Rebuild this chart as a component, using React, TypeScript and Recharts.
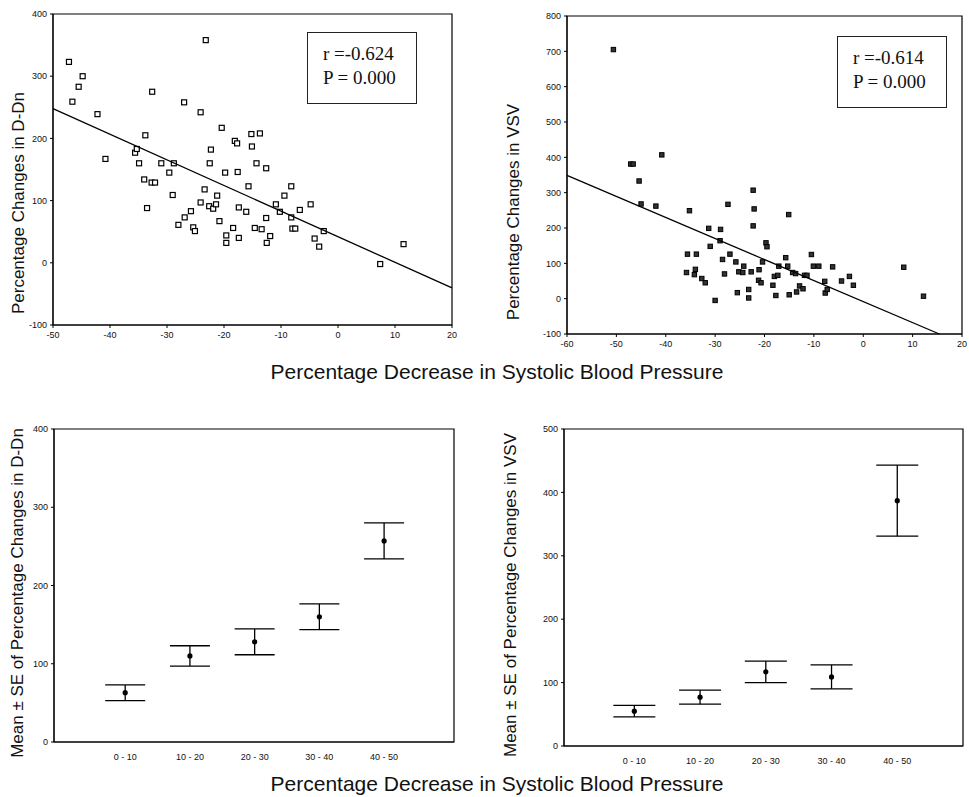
import React from "react";
import { ScatterChart, Scatter, XAxis, YAxis, ReferenceArea, ErrorBar } from "recharts";

// top-left: % decrease in SBP vs % change in D-Dn
const ddnX = [
  -47.2, -46.6, -45.5, -44.8, -42.2, -40.8, -35.6, -35.3, -33.8, -34.9, -34.0, -33.5, -32.6, -32.7, -32.1,
  -31.0, -29.6, -28.8, -29.0, -28.0, -26.9, -27.0, -25.8, -25.4, -25.1, -24.1, -24.1, -23.4, -23.2, -22.5,
  -22.3, -22.6, -21.9, -21.4, -21.2, -20.8, -20.4, -19.8, -19.6, -19.6, -18.4, -18.1, -17.7, -17.6, -17.4,
  -17.4, -16.1, -15.7, -15.2, -15.1, -14.6, -14.3, -13.7, -13.4, -12.6, -12.6, -12.5, -11.9, -10.9, -10.2,
  -9.4, -8.2, -8.2, -8.0, -7.5, -6.7, -4.8, -4.1, -3.3, -2.5, 7.4, 11.5,
];
const ddnY = [
  323, 259, 283, 300, 239, 167, 177, 183, 205, 160, 134, 88, 275, 129, 129,
  160, 145, 160, 109, 61, 73, 258, 83, 57, 51, 242, 97, 118, 358, 160,
  182, 91, 87, 94, 108, 67, 217, 145, 44, 32, 56, 196, 192, 146, 89,
  40, 82, 123, 207, 187, 56, 160, 208, 54, 152, 72, 32, 43, 94, 82,
  108, 123, 73, 55, 55, 85, 94, 39, 26, 51, -2, 30,
];

// top-right: % decrease in SBP vs % change in VSV
const vsvX = [
  -50.6, -47.1, -46.6, -45.4, -45.0, -42.0, -40.8, -35.2, -35.6, -35.8, -33.8, -34.0, -34.2, -32.7, -32.0,
  -31.3, -31.0, -30.0, -28.9, -29.0, -28.5, -28.1, -27.4, -27.0, -25.8, -25.5, -25.2, -24.4, -24.2, -23.2,
  -23.2, -22.7, -22.3, -22.1, -22.3, -21.1, -21.2, -20.7, -20.4, -19.7, -19.5, -18.3, -18.0, -17.3, -17.7,
  -17.1, -15.7, -15.3, -15.1, -15.0, -14.3, -13.7, -13.5, -12.9, -12.2, -11.9, -11.4, -10.5, -10.1, -9.0,
  -7.8, -7.7, -7.3, -6.2, -4.4, -2.8, -2.0, 8.2, 12.2,
];
const vsvY = [
  705, 381, 381, 333, 268, 262, 407, 249, 126, 74, 126, 83, 68, 57, 45,
  199, 148, -5, 196, 164, 111, 70, 267, 126, 104, 17, 76, 74, 92, 26,
  2, 76, 307, 254, 206, 82, 52, 45, 104, 158, 147, 38, 63, 66, 9,
  92, 116, 92, 238, 11, 74, 71, 19, 36, 28, 66, 66, 125, 92, 92,
  49, 16, 26, 90, 50, 63, 38, 89, 7,
];

// bottom panels: groups of % decrease in SBP
const bpGroups = ["0 - 10", "10 - 20", "20 - 30", "30 - 40", "40 - 50"];
const ddnMean = [63, 110, 128, 160, 257];
const ddnSE = [10, 13, 16.5, 16.5, 23];
const vsvMean = [55, 77, 117, 109, 387];
const vsvSE = [9, 11, 17, 19, 56];

const ddnTicksX = [-50, -40, -30, -20, -10, 0, 10, 20];
const ddnTicksY = [-100, 0, 100, 200, 300, 400];
const vsvTicksX = [-60, -50, -40, -30, -20, -10, 0, 10, 20];
const vsvTicksY = [-100, 0, 100, 200, 300, 400, 500, 600, 700, 800];
const groupTicks = [1, 2, 3, 4, 5];
const ddnMeanTicks = [0, 100, 200, 300, 400];
const vsvMeanTicks = [0, 100, 200, 300, 400, 500];

const ddnStats = ["r =-0.624", "P = 0.000"];
const vsvStats = ["r =-0.614", "P = 0.000"];
const xTitle = "Percentage Decrease in Systolic Blood Pressure";

const sans = "'Liberation Sans', Arial, sans-serif";
const serif = "'Liberation Serif', 'Times New Roman', serif";
const tick = { fontSize: 9, fill: "#111", fontFamily: sans };

function fitLine(xs: number[], ys: number[], x0: number, x1: number, yMin: number) {
  const n = xs.length;
  const mx = xs.reduce((a, b) => a + b, 0) / n;
  const my = ys.reduce((a, b) => a + b, 0) / n;
  let sxy = 0;
  let sxx = 0;
  for (let i = 0; i < n; i++) {
    sxy += (xs[i] - mx) * (ys[i] - my);
    sxx += (xs[i] - mx) * (xs[i] - mx);
  }
  const slope = sxy / sxx;
  const icpt = my - slope * mx;
  let end = x1;
  if (icpt + slope * end < yMin) end = (yMin - icpt) / slope;
  return [
    { x: x0, y: icpt + slope * x0 },
    { x: end, y: icpt + slope * end },
  ];
}

const toPoints = (xs: number[], ys: number[]) => xs.map((x, i) => ({ x, y: ys[i] }));
const toGroups = (means: number[], se: number[]) =>
  means.map((m, i) => ({ pos: i + 1, mean: m, se: se[i] }));

const openSquare = (p: any) => (
  <rect x={p.cx - 2.5} y={p.cy - 2.5} width={5} height={5} fill="#fff" stroke="#000" strokeWidth={1.2} />
);
const darkSquare = (p: any) => (
  <rect x={p.cx - 2.2} y={p.cy - 2.2} width={4.4} height={4.4} fill="#333" stroke="#000" strokeWidth={1} />
);
const meanDot = (p: any) => <circle cx={p.cx} cy={p.cy} r={2.6} fill="#000" />;
const noDot = () => <g />;

function YTitle({ text, x, y }: { text: string; x: number; y: number }) {
  return (
    <div
      style={{
        position: "absolute",
        left: x,
        top: y,
        transform: "translate(-50%, -50%) rotate(-90deg)",
        whiteSpace: "nowrap",
        fontFamily: sans,
        fontSize: 17,
        color: "#111",
      }}
    >
      {text}
    </div>
  );
}

function XTitle({ y }: { y: number }) {
  return (
    <div
      style={{
        position: "absolute",
        left: 497,
        top: y,
        transform: "translate(-50%, -50%)",
        whiteSpace: "nowrap",
        fontFamily: sans,
        fontSize: 21,
        color: "#111",
      }}
    >
      {xTitle}
    </div>
  );
}

function StatBox({ lines, left, top }: { lines: string[]; left: number; top: number }) {
  return (
    <div
      style={{
        position: "absolute",
        left,
        top,
        width: 110,
        height: 72,
        boxSizing: "border-box",
        border: "1.5px solid #222",
        padding: "9px 0 0 15px",
        fontFamily: serif,
        fontSize: 19,
        lineHeight: "24px",
        color: "#111",
        background: "#fff",
      }}
    >
      {lines.map((l) => (
        <div key={l}>{l}</div>
      ))}
    </div>
  );
}

export default function App() {
  const ddnPts = toPoints(ddnX, ddnY);
  const vsvPts = toPoints(vsvX, vsvY);
  const ddnFit = fitLine(ddnX, ddnY, -50, 20, -100);
  const vsvFit = fitLine(vsvX, vsvY, -60, 20, -100);
  const ddnGroups = toGroups(ddnMean, ddnSE);
  const vsvGroups = toGroups(vsvMean, vsvSE);
  const groupLabel = (v: number) => bpGroups[v - 1] ?? "";

  return (
    <div style={{ position: "absolute", left: 0, top: 0, width: 969, height: 797, background: "#fff", overflow: "hidden" }}>
      {/* top left */}
      <div style={{ position: "absolute", left: 0, top: 0 }}>
        <ScatterChart width={480} height={360} margin={{ top: 14, right: 28, bottom: 15, left: 0 }}>
          <XAxis type="number" dataKey="x" domain={[-50, 20]} ticks={ddnTicksX} interval={0} tick={tick}
            tickSize={3} tickMargin={4} height={20} stroke="#000" />
          <YAxis type="number" dataKey="y" domain={[-100, 400]} ticks={ddnTicksY} interval={0} tick={tick}
            tickSize={3} tickMargin={3} width={53} stroke="#000" />
          <ReferenceArea x1={-50} x2={20} y1={-100} y2={400} fill="none" stroke="#000" strokeWidth={1.2} />
          <Scatter data={ddnPts} shape={openSquare} isAnimationActive={false} />
          <Scatter data={ddnFit} shape={noDot} line={{ stroke: "#000", strokeWidth: 1.3 }} isAnimationActive={false} />
        </ScatterChart>
      </div>

      {/* top right */}
      <div style={{ position: "absolute", left: 480, top: 0 }}>
        <ScatterChart width={489} height={360} margin={{ top: 16, right: 7, bottom: 6, left: 0 }}>
          <XAxis type="number" dataKey="x" domain={[-60, 20]} ticks={vsvTicksX} interval={0} tick={tick}
            tickSize={3} tickMargin={4} height={20} stroke="#000" />
          <YAxis type="number" dataKey="y" domain={[-100, 800]} ticks={vsvTicksY} interval={0} tick={tick}
            tickSize={3} tickMargin={3} width={87} stroke="#000" />
          <ReferenceArea x1={-60} x2={20} y1={-100} y2={800} fill="none" stroke="#000" strokeWidth={1.2} />
          <Scatter data={vsvPts} shape={darkSquare} isAnimationActive={false} />
          <Scatter data={vsvFit} shape={noDot} line={{ stroke: "#000", strokeWidth: 1.3 }} isAnimationActive={false} />
        </ScatterChart>
      </div>

      {/* bottom left */}
      <div style={{ position: "absolute", left: 0, top: 390 }}>
        <ScatterChart width={480} height={407} margin={{ top: 39, right: 26, bottom: 35, left: 0 }}>
          <XAxis type="number" dataKey="pos" domain={[-0.1, 6.08]} ticks={groupTicks} interval={0}
            tickFormatter={groupLabel} tick={tick} tickLine={false} tickMargin={6} height={20} stroke="#000" />
          <YAxis type="number" dataKey="mean" domain={[0, 400]} ticks={ddnMeanTicks} interval={0} tick={tick}
            tickSize={3} tickMargin={3} width={54} stroke="#000" />
          <ReferenceArea x1={-0.1} x2={6.08} y1={0} y2={400} fill="none" stroke="#000" strokeWidth={1.2} />
          <Scatter data={ddnGroups} shape={meanDot} isAnimationActive={false}>
            <ErrorBar dataKey="se" direction="y" width={20} stroke="#000" strokeWidth={1.3} isAnimationActive={false} />
          </Scatter>
        </ScatterChart>
      </div>

      {/* bottom right */}
      <div style={{ position: "absolute", left: 480, top: 390 }}>
        <ScatterChart width={489} height={407} margin={{ top: 39, right: 6, bottom: 31, left: 0 }}>
          <XAxis type="number" dataKey="pos" domain={[-0.07, 6]} ticks={groupTicks} interval={0}
            tickFormatter={groupLabel} tick={tick} tickLine={false} tickMargin={6} height={20} stroke="#000" />
          <YAxis type="number" dataKey="mean" domain={[0, 500]} ticks={vsvMeanTicks} interval={0} tick={tick}
            tickSize={3} tickMargin={3} width={84} stroke="#000" />
          <ReferenceArea x1={-0.07} x2={6} y1={0} y2={500} fill="none" stroke="#000" strokeWidth={1.2} />
          <Scatter data={vsvGroups} shape={meanDot} isAnimationActive={false}>
            <ErrorBar dataKey="se" direction="y" width={21} stroke="#000" strokeWidth={1.3} isAnimationActive={false} />
          </Scatter>
        </ScatterChart>
      </div>

      <StatBox lines={ddnStats} left={307} top={32} />
      <StatBox lines={vsvStats} left={837} top={36} />

      <YTitle text="Percentage Changes in D-Dn" x={19} y={203} />
      <YTitle text="Percentage Changes in VSV" x={514} y={212} />
      <YTitle text="Mean ± SE of Percentage Changes in D-Dn" x={18} y={593} />
      <YTitle text="Mean ± SE of Percentage Changes in VSV" x={511} y={595} />

      <XTitle y={372} />
      <XTitle y={784} />
    </div>
  );
}
